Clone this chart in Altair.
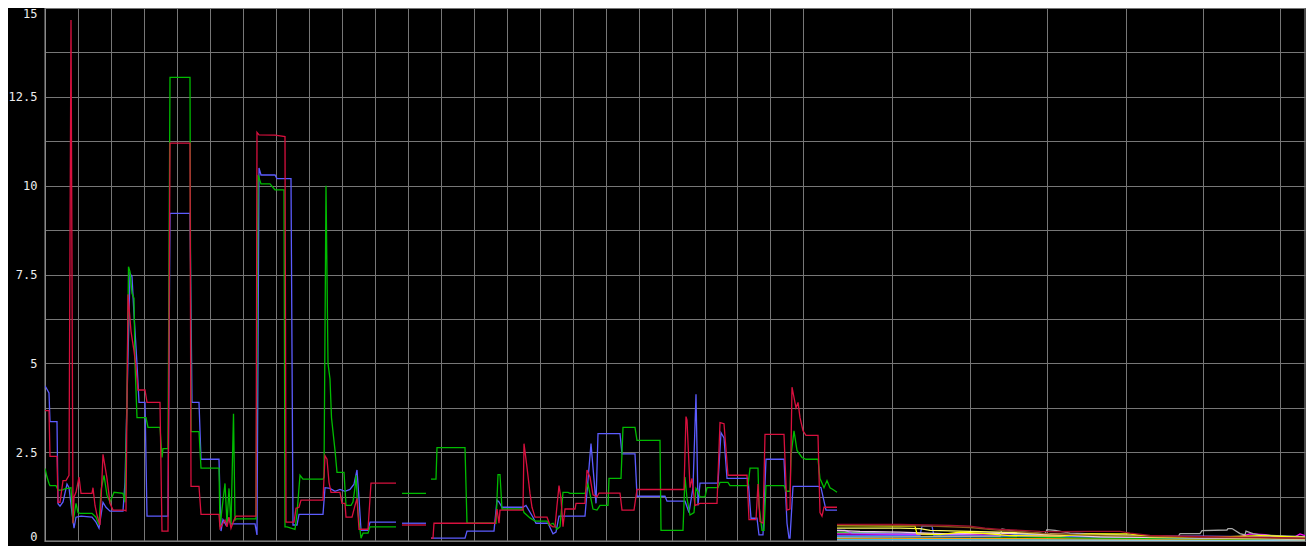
import altair as alt
import pandas as pd

# ---- time index of samples (t) and values, one pair of lists per series ----
blue_t = [0,4,5,12,13,15,18,22,24,27,29,31,36,47,51,54,58,61,65,78,80,82,85,87,89,92,94,100,102,123,125,145,147,154,156,174,176,178,181,183,186,210,212,214,216,230,232,246,248,252,254,278,280,285,290,295,300,305,309,312,314,316,323,325,351,None,357,381,None,386,420,422,449,452,454,457,478,481,488,491,503,508,511,514,540,546,551,553,575,577,590,592,620,622,640,644,648,651,653,655,673,676,679,682,703,706,712,714,718,721,739,742,744,745,748,773,776,781,792]
blue_v = [4.37,4.17,3.36,3.36,1.05,0.98,1.1,1.6,1.5,0.8,0.36,0.67,0.7,0.67,0.53,0.36,1.09,0.95,0.84,0.84,1.65,4.0,7.53,7.44,6.38,4.98,3.9,3.9,0.7,0.7,9.22,9.22,3.9,3.9,2.3,2.3,0.28,0.6,0.45,0.64,0.48,0.48,0.17,10.5,10.3,10.3,10.2,10.2,0.45,0.45,0.75,0.75,1.5,1.48,1.4,1.45,1.4,1.45,1.6,2.0,1.2,0.3,0.3,0.53,0.53,None,0.5,0.5,None,0.08,0.08,0.28,0.28,1.15,1.1,0.95,0.95,1.0,0.67,0.5,0.5,0.2,0.25,0.7,0.7,2.74,1.06,3.02,3.02,2.45,2.45,1.26,1.26,1.12,1.12,0.8,1.5,4.13,1.0,1.63,1.63,3.05,2.9,1.76,1.76,0.64,0.64,0.17,0.17,2.3,2.3,0.5,0.08,0.08,1.54,1.54,1.5,0.87,0.87]

green_t = [0,2,4,5,11,13,17,21,24,26,28,31,33,35,47,51,54,56,59,62,65,69,78,80,82,83.5,85,87,89,90,92,101,103,115,117,118,123,125,145,146,154,156,174,175,177,180,182,184,186,188.5,190,191,211,213,216,225,230,239,240,242,250,252,255,258,278,279,281,283,285,286.5,290,292,299,301,306,308,310,311,313,316,318,323,325,351,None,357,381,None,386,391,392,420,422,451,453,455,457,478,479,485,490,502,504,508,512,515,518,523,525,540,543,548,552,555,563,564,576,578,590,592,615,616,638,640,642,645,649,651,653,655,660,662,673,675,683,685,703,705,713,714,717,719,721,739,741,745,746,749,752,757,761,773,775,779,782,785,788,792]
green_v = [2.04,1.8,1.62,1.56,1.56,1.43,1.43,1.48,1.48,1.5,0.5,1.06,0.8,0.78,0.78,0.67,0.45,1.43,1.85,1.29,1.09,1.37,1.34,1.09,4.0,7.72,7.58,6.97,6.83,5.0,3.47,3.47,3.2,3.2,2.35,2.6,2.6,13.05,13.05,3.08,3.08,2.05,2.05,0.4,0.9,1.62,0.5,1.48,0.45,3.58,0.59,0.62,0.62,10.3,10.05,10.05,9.88,9.88,0.4,0.4,0.33,0.78,1.85,1.74,1.74,1.8,10.0,5.0,4.56,3.47,2.55,1.93,1.93,1.0,1.0,1.1,1.5,1.85,0.8,0.08,0.22,0.22,0.4,0.4,None,1.34,1.34,None,1.74,1.74,2.63,2.63,0.5,0.5,1.87,1.87,0.9,0.9,0.8,0.65,0.56,0.56,0.45,0.5,0.33,0.4,1.37,1.37,1.34,1.34,1.6,0.9,0.87,1.0,1.0,1.76,1.76,3.2,3.2,2.83,2.83,0.3,0.3,1.8,1.2,0.73,0.8,1.48,1.4,1.24,1.24,1.5,1.5,1.65,1.65,1.56,1.56,2.05,2.05,1.0,0.3,0.3,1.56,1.56,1.4,1.4,2.4,3.1,2.55,2.35,2.3,2.3,1.76,1.5,1.7,1.5,1.45,1.37]

red_t = [0,4,5,12,13,15,18,21,24,26,28,29,31,34,36,47,48,50,52,55,58,62,65,68,79,81,83,86,89,91,93,100,102,115,117,123,125,145,146,154,156,174,175,177,180,182,184,186,189,191,211,212,214,230,240,241,249,251,254,256,278,280,282,284,286,295,297,300,301,307,310,312,314,323,326,351,None,357,381,None,386,388,389,450,452,454,455,478,479,482,485,487,490,502,505,508,510,512,514,516,518,520,530,531,540,542,545,548,552,554,575,577,589,592,639,641,642,645,647,650,655,672,675,679,683,702,704,711,713,715,718,720,739,742,745,747,751,753,755,758,761,773,775,777,779,792]
red_v = [3.67,3.67,2.38,2.38,1.09,1.09,1.7,1.7,1.85,14.66,0.5,1.24,1.37,1.8,1.34,1.34,1.5,1.0,0.73,0.45,2.44,1.76,1.06,0.87,0.87,0.85,6.94,5.9,5.35,4.9,4.25,4.25,3.9,3.9,0.28,0.28,11.2,11.2,1.54,1.54,0.75,0.75,0.36,0.45,0.59,0.4,0.67,0.36,0.59,0.7,0.7,11.5,11.43,11.42,11.38,0.53,0.53,0.92,0.95,1.15,1.15,2.4,2.3,1.65,1.37,1.37,1.06,1.06,0.67,0.67,1.0,1.2,0.33,0.33,1.63,1.63,None,0.45,0.45,None,0.08,0.08,0.5,0.5,0.9,0.5,0.87,0.87,2.74,2.07,1.34,0.95,0.67,0.67,0.45,0.4,0.4,1.0,1.56,1.2,0.4,0.9,0.9,1.06,1.06,2.0,1.8,1.3,1.24,1.35,1.35,0.87,0.87,1.45,1.45,3.5,3.4,1.5,1.76,1.0,1.06,1.06,3.33,3.3,1.85,1.85,0.6,0.6,1.6,0.55,0.5,3.0,3.0,0.87,0.9,4.33,3.75,3.9,3.47,3.1,2.97,2.97,0.8,0.7,0.95,0.95]

# low-level series in the last part of the time range
darkred_t = [792,855,905,925,940,955,995,1015,1045,1075,1085,1105,1155,1215,1260]
darkred_v = [0.47,0.47,0.44,0.42,0.36,0.33,0.27,0.26,0.27,0.27,0.22,0.16,0.12,0.1,0.08]
brown_t = [792,845,885,925,955,1005,1055,1155,1260]
brown_v = [0.45,0.44,0.42,0.38,0.3,0.2,0.15,0.1,0.07]
yellow_t = [792,870,872,895,915,935,965,1015,1045,1085,1105,1155,1185,1215,1230,1260]
yellow_v = [0.43,0.42,0.2,0.18,0.25,0.22,0.15,0.14,0.2,0.2,0.12,0.1,0.12,0.15,0.14,0.1]
khaki_t = [792,855,875,885,955,1055,1260]
khaki_v = [0.36,0.36,0.35,0.3,0.25,0.15,0.06]
pinkwhite_t = [792,815,855,905,955,1005,1055,1260]
pinkwhite_v = [0.3,0.27,0.25,0.2,0.22,0.18,0.12,0.05]
purple_t = [792,800,807,855,915,965,1005,1055,1105,1155,1205,1260]
purple_v = [0.3,0.3,0.22,0.2,0.2,0.24,0.2,0.16,0.14,0.14,0.12,0.1]
blue2_t = [792,875,877,887,889,955,1055,1260]
blue2_v = [0.15,0.15,0.42,0.42,0.15,0.14,0.12,0.06]
magenta_t = [792,905,1005,1155,1195,1205,1220,1235,1250,1255,1260]
magenta_v = [0.2,0.18,0.15,0.1,0.12,0.2,0.18,0.1,0.12,0.2,0.15]
green2_t = [792,855,955,1055,1260]
green2_v = [0.22,0.2,0.12,0.08,0.05]
lightgreen_t = [792,835,905,955,1155,1260]
lightgreen_v = [0.25,0.23,0.18,0.15,0.08,0.05]
teal_t = [792,955,975,1005,1105,1205,1260]
teal_v = [0.12,0.12,0.2,0.14,0.1,0.12,0.08]
gray_t = [792,955,957,965,975,1000,1002,1010,1025,1133,1135,1155,1157,1182,1183,1187,1195,1200,1201,1208,1215,1260]
gray_v = [0.1,0.14,0.34,0.3,0.26,0.2,0.32,0.3,0.22,0.12,0.21,0.21,0.29,0.31,0.35,0.35,0.21,0.17,0.28,0.21,0.17,0.12]
orange_t = [792,955,1260]
orange_v = [0.08,0.07,0.04]
cyan_t = [792,1260]
cyan_v = [0.05,0.03]
white_t = [792,1260]
white_v = [0.03,0.02]

grid_t = [0,33,66,99,132,165,198,231,264,297,330,363,396,429,462,495,528,561,594,627,660,692,725,758,847,925,1002,1081,1158,1235]
y_ticks = [0,1.25,2.5,3.75,5,6.25,7.5,8.75,10,11.25,12.5,13.75,15]

series = [
    ("white", "#e8e8e8", white_t, white_v),
    ("cyan", "#33bbee", cyan_t, cyan_v),
    ("orange", "#ff9900", orange_t, orange_v),
    ("teal", "#00a0a0", teal_t, teal_v),
    ("lightgreen", "#88e888", lightgreen_t, lightgreen_v),
    ("green2", "#00c000", green2_t, green2_v),
    ("magenta", "#ff00ff", magenta_t, magenta_v),
    ("blue2", "#5060ff", blue2_t, blue2_v),
    ("purple", "#9966ff", purple_t, purple_v),
    ("pinkwhite", "#f0c8e8", pinkwhite_t, pinkwhite_v),
    ("gray", "#aaaaaa", gray_t, gray_v),
    ("khaki", "#ffff66", khaki_t, khaki_v),
    ("yellow", "#ffff00", yellow_t, yellow_v),
    ("brown", "#8b5a1a", brown_t, brown_v),
    ("darkred", "#a0102e", darkred_t, darkred_v),
    ("blue", "#5c5cff", blue_t, blue_v),
    ("green", "#00bb00", green_t, green_v),
    ("red", "#d8103e", red_t, red_v),
]

rows = []
for name, col, ts, vs in series:
    seg = 0
    for t, v in zip(ts, vs):
        if v is None:
            seg += 1
            continue
        rows.append({"series": name, "seg": f"{name}-{seg}", "t": t, "v": v, "idx": len(rows)})
df = pd.DataFrame(rows)

names = [s[0] for s in series]
colors = [s[1] for s in series]

chart = alt.Chart(df).mark_line(strokeWidth=1.3, clip=True).encode(
    x=alt.X("t:Q",
            scale=alt.Scale(domain=[0, 1260], nice=False, zero=False),
            axis=alt.Axis(values=grid_t, labels=False, ticks=False, domain=False,
                          grid=True, gridColor="#777777", gridWidth=1, title=None)),
    y=alt.Y("v:Q",
            scale=alt.Scale(domain=[0, 15], nice=False),
            axis=alt.Axis(values=y_ticks, ticks=False, domain=True, domainColor="#8a8a8a",
                          grid=True, gridColor="#777777", gridWidth=1, title=None,
                          labelExpr="datum.value % 2.5 == 0 ? '' + datum.value : ''",
                          labelColor="#eeeeee", labelFont="DejaVu Sans Mono", labelFontSize=12,
                          labelPadding=8,
                          labelBaseline={"condition": {"test": "datum.value == 15", "value": "top"},
                                         "value": "middle"},
                          labelOffset={"condition": {"test": "datum.value == 0", "value": -5},
                                       "value": 0})),
    color=alt.Color("series:N", scale=alt.Scale(domain=names, range=colors), legend=None),
    detail="seg:N",
    order="idx:Q",
).properties(
    width=1260, height=533,
    background="black",
    autosize=alt.AutoSizeParams(type="none"),
    padding={"left": 37, "top": 0, "right": 1, "bottom": 5},
).configure_view(stroke="#4a4a4a", strokeWidth=2, fill="black")

chart.save("out.html", embed_options={"renderer": "svg", "actions": False})
